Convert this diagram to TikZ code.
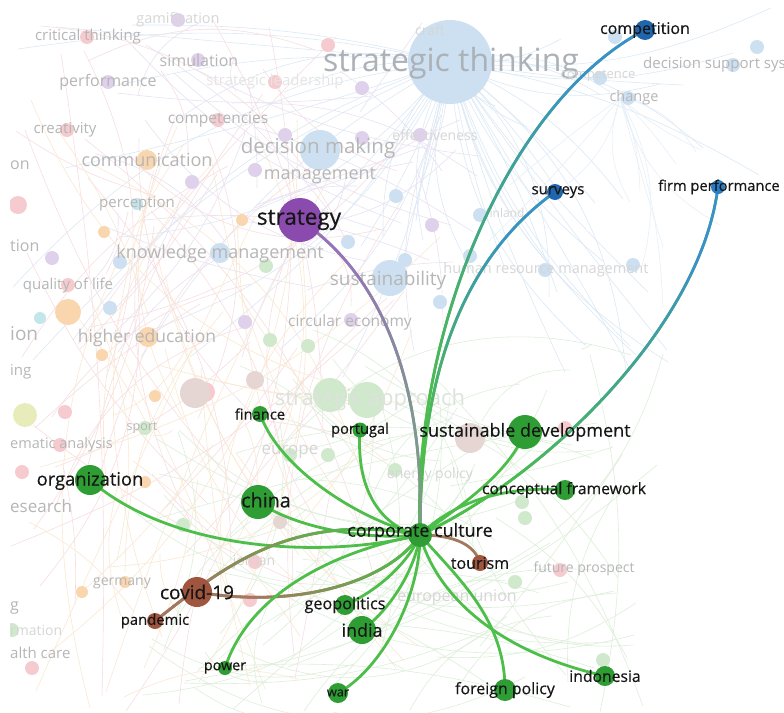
\documentclass[tikz,border=0pt]{standalone}
\usepackage{fontspec}
\setmainfont{Open Sans}
\newfontfamily\lblfont[FakeBold=0.45]{Open Sans}
\definecolor{vgreen}{HTML}{2E9E34}
\definecolor{egreen}{HTML}{4DBE4A}
\definecolor{vblue}{HTML}{2A7CC4}
\definecolor{dblue}{HTML}{1F66AE}
\definecolor{eblue}{HTML}{3A8FD0}
\definecolor{vpurple}{HTML}{8A4AAE}
\definecolor{epurple}{HTML}{9A70BE}
\definecolor{egray}{HTML}{7C9C8A}
\definecolor{vbrown}{HTML}{A0553F}
\definecolor{ebrown}{HTML}{A3785E}
\definecolor{labc}{HTML}{161616}
\definecolor{fadec}{HTML}{B6B6B6}
\definecolor{fadelt}{HTML}{D6D6D6}
\definecolor{stc}{HTML}{ABB1B7}
\definecolor{fblue}{HTML}{CCE0F1}
\definecolor{fpink}{HTML}{F6CBCF}
\definecolor{forange}{HTML}{FAD6AE}
\definecolor{fpurple}{HTML}{DFD1EC}
\definecolor{fgreen}{HTML}{D0E9CD}
\definecolor{fbrown}{HTML}{E5D6D3}
\definecolor{fteal}{HTML}{C3E5EC}
\definecolor{fyellow}{HTML}{E8ECBA}
\definecolor{lblue}{HTML}{DCE9F5}
\definecolor{lpink}{HTML}{F8DEE1}
\definecolor{lorange}{HTML}{FBE8D2}
\definecolor{lgreen}{HTML}{DDEFDA}
\definecolor{lpurple}{HTML}{EAE1F2}
\newcommand\lfs[1]{\fontsize{#1}{#1}\selectfont}
% gradient overlay of a cubic Bezier: colours \gcA -> \gcB
\def\gradbez(#1,#2)(#3,#4)(#5,#6)(#7,#8)#9{%
  \foreach \k in {1,...,40}{%
    \pgfmathsetmacro\ta{(\k-1)/40}%
    \pgfmathsetmacro\tb{\k/40}%
    \pgfmathsetmacro\xa{(1-\ta)^3*#1+3*(1-\ta)^2*\ta*#3+3*(1-\ta)*\ta^2*#5+\ta^3*#7}%
    \pgfmathsetmacro\ya{(1-\ta)^3*#2+3*(1-\ta)^2*\ta*#4+3*(1-\ta)*\ta^2*#6+\ta^3*#8}%
    \pgfmathsetmacro\xb{(1-\tb)^3*#1+3*(1-\tb)^2*\tb*#3+3*(1-\tb)*\tb^2*#5+\tb^3*#7}%
    \pgfmathsetmacro\yb{(1-\tb)^3*#2+3*(1-\tb)^2*\tb*#4+3*(1-\tb)*\tb^2*#6+\tb^3*#8}%
    \pgfmathtruncatemacro\pc{100*min(1,max(0,(\tb-0.2)/0.65))}%
    \draw[line width=#9,line cap=round,draw=\gcB!\pc!\gcA] (\xa,\ya) -- (\xb,\yb);
  }}
\begin{document}
\begin{tikzpicture}[x=1pt,y=-1pt,
  vnode/.style={circle,inner sep=0pt,minimum size=#1},
  gn/.style={vnode=#1,fill=vgreen},
  bn/.style={vnode=#1,fill=vblue},
  brn/.style={vnode=#1,fill=vbrown},
  lbl/.style={text=labc,inner sep=0pt},
  fl/.style={text=fadec,inner sep=0pt},
  fll/.style={text=fadelt,inner sep=0pt},
  ge/.style={draw=egreen,line width=2.8pt,line cap=round},
  bgline/.style={line width=0.6pt}]
\useasboundingbox (0,0) rectangle (784,712);
\fill[white] (0,0) rectangle (784,712);

% ---------- node positions ----------
\coordinate (cc) at (420,535);
\coordinate (strat) at (300,220);
\coordinate (comp) at (645,30);
\coordinate (surv) at (555,192);
\coordinate (firm) at (718,187);
\coordinate (sd) at (525,432);
\coordinate (cf) at (565,490);
\coordinate (fin) at (260,414);
\coordinate (port) at (360,430);
\coordinate (org) at (90,480);
\coordinate (chn) at (258,502);
\coordinate (tour) at (480,563);
\coordinate (cov) at (197,592);
\coordinate (pand) at (155,621);
\coordinate (geo) at (345,605);
\coordinate (ind) at (362,630);
\coordinate (pow) at (225,668);
\coordinate (war) at (338,693);
\coordinate (fpol) at (505,690);
\coordinate (indo) at (605,676);

% ---------- faded background network ----------
\begin{scope}
\clip (10,8) rectangle (784,712);
\pgfmathsetseed{11}
\foreach \i in {1,...,55}{
  \pgfmathsetmacro\bx{random(10,784)}
  \pgfmathsetmacro\by{random(0,380)}
  \pgfmathsetmacro\bb{random(-25,25)}
  \draw[bgline,lblue] (450,62) to[bend left=\bb] (\bx,\by);
}
\foreach \i in {1,...,45}{
  \pgfmathsetmacro\ax{random(10,330)}
  \pgfmathsetmacro\ay{random(0,712)}
  \pgfmathsetmacro\bx{random(10,420)}
  \pgfmathsetmacro\by{random(0,712)}
  \pgfmathsetmacro\bb{random(-30,30)}
  \draw[bgline,lpink] (\ax,\ay) to[bend left=\bb] (\bx,\by);
}
\foreach \i in {1,...,40}{
  \pgfmathsetmacro\ax{random(10,300)}
  \pgfmathsetmacro\ay{random(100,712)}
  \pgfmathsetmacro\bx{random(10,450)}
  \pgfmathsetmacro\by{random(100,712)}
  \pgfmathsetmacro\bb{random(-30,30)}
  \draw[bgline,lorange] (\ax,\ay) to[bend left=\bb] (\bx,\by);
}
\foreach \i in {1,...,30}{
  \pgfmathsetmacro\ax{random(80,480)}
  \pgfmathsetmacro\ay{random(20,360)}
  \pgfmathsetmacro\bx{random(80,480)}
  \pgfmathsetmacro\by{random(20,360)}
  \pgfmathsetmacro\bb{random(-30,30)}
  \draw[bgline,lpurple] (\ax,\ay) to[bend left=\bb] (\bx,\by);
}
\foreach \i in {1,...,70}{
  \pgfmathsetmacro\ax{random(150,650)}
  \pgfmathsetmacro\ay{random(330,712)}
  \pgfmathsetmacro\bx{random(120,680)}
  \pgfmathsetmacro\by{random(330,712)}
  \pgfmathsetmacro\bb{random(-35,35)}
  \draw[bgline,lgreen] (\ax,\ay) to[bend left=\bb] (\bx,\by);
}
\foreach \i in {1,...,12}{
  \pgfmathsetmacro\bx{random(480,720)}
  \pgfmathsetmacro\by{random(150,330)}
  \pgfmathsetmacro\bb{random(-25,25)}
  \draw[bgline,lblue!70] (620,98) to[bend left=\bb] (\bx,\by);
}
% faded circles
\fill[fblue] (450,62) circle (42pt);
\fill[fblue] (320,150) circle (20pt);
\fill[fblue] (390,278) circle (18pt);
\fill[fblue] (220,253) circle (10pt);
\foreach \p in {(615,37),(757,47),(733,65),(600,78),(628,98),(396,196),(348,242),(405,260),(440,302),(470,256),(545,270),(633,265),(480,215),(120,262),(110,308)}
  \fill[fblue] \p circle (7pt);
\foreach \p in {(87,37),(328,45),(275,82),(218,120),(67,130),(68,285),(65,412),(60,445),(22,472),(250,600),(255,562),(32,668),(565,428),(560,570)}
  \fill[fpink] \p circle (7pt);
\fill[fpink] (18,205) circle (9pt);
\fill[fpink] (205,392) circle (10pt);
\foreach \p in {(178,20),(198,60),(108,82),(362,88),(285,135),(255,170),(362,138),(420,135),(192,182),(52,258),(432,225),(245,322),(351,320)}
  \fill[fpurple] \p circle (7pt);
\foreach \p in {(104,232),(242,220),(102,355),(155,396),(145,482),(82,592),(125,582)}
  \fill[forange] \p circle (6pt);
\fill[forange] (147,160) circle (10pt);
\fill[forange] (68,312) circle (13pt);
\fill[forange] (148,337) circle (10pt);
\fill[fteal] (137,204) circle (6pt);
\fill[fteal] (40,318) circle (6pt);
\fill[fyellow] (25,415) circle (12pt);
\fill[fbrown] (195,393) circle (15pt);
\fill[fbrown] (255,380) circle (9pt);
\fill[fbrown] (280,522) circle (7pt);
\fill[fbrown] (470,438) circle (15pt);
\fill[fgreen] (330,395) circle (17pt);
\fill[fgreen] (367,400) circle (18pt);
\foreach \p in {(266,266),(270,340),(308,346),(290,455),(328,455),(145,428),(183,525),(522,502),(525,518),(515,582),(603,660),(12,630),(395,470)}
  \fill[fgreen] \p circle (7pt);
\end{scope}
% faded labels
\node[inner sep=0pt,text=stc,font=\lfs{32}] (t-st) at (451,63) {strategic thinking};
\node[fl,font=\lfs{20.5}] (t-dm) at (318,148) {decision making};
\node[fl,font=\lfs{18}] (t-mg) at (320,176) {management};
\node[fl,font=\lfs{18}] (t-cm) at (147,160) {communication};
\node[fl,font=\lfs{15}] (t-ct) at (88,37) {critical thinking};
\node[fll,font=\lfs{14.5}] (t-gm) at (178,20) {gamification};
\node[fl,font=\lfs{16}] (t-sim) at (199,60) {simulation};
\node[fl,font=\lfs{16}] (t-pf) at (108,82) {performance};
\node[inner sep=0pt,text=black!10,font=\lfs{15}] (t-sl) at (275,82) {strategic leadership};
\node[fll,font=\lfs{14}] (t-cr) at (430,30) {craft};
\node[fll,font=\lfs{13}] (t-cp) at (598,76) {competence};
\node[fl,font=\lfs{15},anchor=west] (t-dss) at (643,65) {decision support systems};
\node[fl,font=\lfs{14.5}] (t-ch) at (634,98) {change};
\node[fl,font=\lfs{15}] (t-cv) at (65,130) {creativity};
\node[fl,font=\lfs{15.5}] (t-cps) at (218,120) {competencies};
\node[fll,font=\lfs{14}] (t-ef) at (435,135) {effectiveness};
\node[fl,font=\lfs{15}] (t-pc) at (137,204) {perception};
\node[fl,font=\lfs{18}] (t-km) at (220,254) {knowledge management};
\node[fl,font=\lfs{16},anchor=west] (t-on) at (10,165) {on};
\node[fl,font=\lfs{16},anchor=west] (t-tion) at (10,246) {tion};
\node[fl,font=\lfs{15}] (t-ql) at (68,286) {quality of life};
\node[fl,font=\lfs{19}] (t-su) at (388,281) {sustainability};
\node[fll,font=\lfs{14.5}] (t-hrm) at (546,270) {human resource management};
\node[fll,font=\lfs{12}] (t-fin) at (505,213) {finland};
\node[fl,font=\lfs{15.5}] (t-ce) at (350,322) {circular economy};
\node[fl,font=\lfs{19},anchor=west] (t-ion) at (10,334) {ion};
\node[fl,font=\lfs{17.5}] (t-he) at (147,338) {higher education};
\node[fl,font=\lfs{15},anchor=west] (t-ing) at (10,372) {ing};
\node[inner sep=0pt,text=fgreen!80!black!40,font=\lfs{22}] (t-sa) at (370,400) {strategic approach};
\node[fl,font=\lfs{12.5}] (t-sp) at (142,428) {sport};
\node[fl,font=\lfs{14.5},anchor=west] (t-ta) at (10,445) {ematic analysis};
\node[fll,font=\lfs{17}] (t-eu) at (290,452) {europe};
\node[fll,font=\lfs{14}] (t-ep) at (430,475) {energy policy};
\node[fl,font=\lfs{17},anchor=west] (t-re) at (10,506) {esearch};
\node[fll,font=\lfs{14}] (t-jo) at (254,562) {jordan};
\node[fl,font=\lfs{14}] (t-ge) at (122,583) {germany};
\node[fl,font=\lfs{14}] (t-fp) at (584,569) {future prospect};
\node[fll,font=\lfs{16}] (t-eun) at (457,598) {european union};
\node[fl,font=\lfs{16},anchor=west] (t-g) at (10,608) {g};
\node[fll,font=\lfs{14},anchor=west] (t-rm) at (10,630) {rmation};
\node[fl,font=\lfs{15},anchor=west] (t-hc) at (10,653) {alth care};

% ---------- edges ----------
\draw[ge] (cc) .. controls (412,330) and (510,100) .. (comp);
\def\gcA{egreen}\def\gcB{eblue}
\gradbez(420,535)(412,330)(510,100)(645,30){2.6pt}
\draw[ge] (cc) .. controls (420,380) and (460,260) .. (surv);
\gradbez(420,535)(420,380)(460,260)(555,192){2.6pt}
\draw[ge] (cc) .. controls (540,480) and (700,330) .. (firm);
\gradbez(420,535)(540,480)(700,330)(718,187){2.6pt}
\draw[ge,draw=egray] (cc) .. controls (425,400) and (390,280) .. (strat);
\def\gcA{egray}\def\gcB{epurple}
\gradbez(420,535)(425,400)(390,280)(300,220){2.6pt}
\draw[ge] (cc) .. controls (470,500) and (510,470) .. (sd);
\draw[ge] (cc) .. controls (450,505) and (500,485) .. (cf);
\draw[ge] (fin) .. controls (280,470) and (360,520) .. (cc);
\draw[ge] (port) .. controls (355,500) and (390,530) .. (cc);
\draw[ge] (org) .. controls (170,550) and (320,560) .. (cc);
\draw[ge] (chn) .. controls (300,530) and (370,540) .. (cc);
\draw[ge,draw=ebrown] (cov) .. controls (300,610) and (390,580) .. (cc);
\def\gcA{ebrown}\def\gcB{egreen}
\gradbez(197,592)(300,610)(390,580)(420,535){2.8pt}
\draw[ge,draw=ebrown] (pand) .. controls (220,570) and (290,510) .. (cc);
\gradbez(155,621)(220,570)(290,510)(420,535){2.8pt}
\draw[ge,draw=ebrown] (cc) .. controls (455,535) and (475,545) .. (tour);
\draw[ge] (pow) .. controls (250,590) and (340,550) .. (cc);
\draw[ge] (geo) .. controls (380,590) and (410,560) .. (cc);
\draw[ge] (ind) .. controls (390,610) and (415,570) .. (cc);
\draw[ge] (war) .. controls (380,670) and (420,600) .. (cc);
\draw[ge] (cc) .. controls (460,580) and (505,620) .. (fpol);
\draw[ge] (cc) .. controls (435,590) and (490,650) .. (indo);

% ---------- main nodes ----------
\node[gn=24pt] (cc-n) at (cc) {};
\node[vnode=44pt,fill=vpurple] (strat-n) at (strat) {};
\node[bn=20pt,fill=dblue] (comp-n) at (comp) {};
\node[bn=16pt,fill=dblue] (surv-n) at (surv) {};
\node[bn=14pt] (firm-n) at (firm) {};
\node[gn=34pt] (sd-n) at (sd) {};
\node[gn=20pt] (cf-n) at (cf) {};
\node[gn=16pt] (fin-n) at (fin) {};
\node[gn=15pt] (port-n) at (port) {};
\node[gn=30pt] (org-n) at (org) {};
\node[gn=34pt] (chn-n) at (chn) {};
\node[brn=16pt] (tour-n) at (tour) {};
\node[brn=30pt] (cov-n) at (cov) {};
\node[brn=16pt] (pand-n) at (pand) {};
\node[gn=20pt] (geo-n) at (geo) {};
\node[gn=28pt] (ind-n) at (ind) {};
\node[gn=14pt] (pow-n) at (pow) {};
\node[gn=20pt] (war-n) at (war) {};
\node[gn=22pt] (fpol-n) at (fpol) {};
\node[gn=20pt] (indo-n) at (indo) {};

% ---------- labels ----------
\begin{scope}[every node/.append style={lbl}]
\node[font=\lblfont\lfs{18}] (cc-t) at (420,532) {corporate culture};
\node[font=\lblfont\lfs{22.5}] (strat-t) at (299,220) {strategy};
\node[font=\lblfont\lfs{16}] (comp-t) at (645,30) {competition};
\node[font=\lblfont\lfs{15}] (surv-t) at (558,192) {surveys};
\node[font=\lblfont\lfs{14.7}] (firm-t) at (719,187) {firm performance};
\node[font=\lblfont\lfs{18}] (sd-t) at (525,432) {sustainable development};
\node[font=\lblfont\lfs{15.7}] (cf-t) at (564,490) {conceptual framework};
\node[font=\lblfont\lfs{14.7}] (fin-t) at (260,414) {finance};
\node[font=\lblfont\lfs{14.6}] (port-t) at (360,430) {portugal};
\node[font=\lblfont\lfs{18.3}] (org-t) at (90,481) {organization};
\node[font=\lblfont\lfs{19.7}] (chn-t) at (266,500) {china};
\node[font=\lblfont\lfs{16}] (tour-t) at (480,563) {tourism};
\node[font=\lblfont\lfs{19}] (cov-t) at (197,592) {covid-19};
\node[font=\lblfont\lfs{14.8}] (pand-t) at (155,621) {pandemic};
\node[font=\lblfont\lfs{16.2}] (geo-t) at (345,605) {geopolitics};
\node[font=\lblfont\lfs{17.9}] (ind-t) at (362,630) {india};
\node[font=\lblfont\lfs{14.3}] (pow-t) at (225,668) {power};
\node[font=\lblfont\lfs{12.7}] (war-t) at (338,693) {war};
\node[font=\lblfont\lfs{15.9}] (fpol-t) at (505,690) {foreign policy};
\node[font=\lblfont\lfs{15.7}] (indo-t) at (605,676) {indonesia};
\end{scope}
\end{tikzpicture}
\end{document}
